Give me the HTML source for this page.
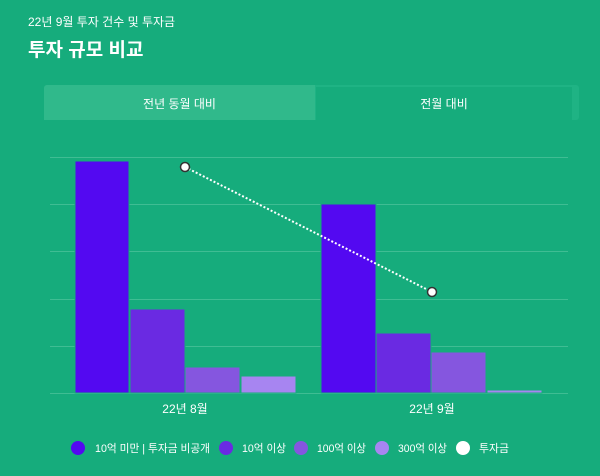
<!DOCTYPE html><html><head><meta charset="utf-8"><style>
body{margin:0;width:600px;height:476px;background:#16ac7c;font-family:"Liberation Sans","Noto Sans CJK KR",sans-serif;overflow:hidden;position:relative;color:#fff}
.t{position:absolute}
</style></head><body>
<div class="t" style="left:28px;top:13px;font-size:12px;">22년 9월 투자 건수 및 투자금</div>
<div class="t" style="left:28px;top:35px;font-size:19px;font-weight:bold;">투자 규모 비교</div>
<div class="t" style="left:44px;top:85px;width:535px;height:35px;background:#1fb384;border-radius:3px"></div>
<div class="t" style="left:44px;top:85px;width:271px;height:35px;background:#30b98b;border-radius:3px 0 0 0"></div>
<div class="t" style="left:316px;top:87px;width:256px;height:33px;background:#16ac7c"></div>
<div class="t" style="left:44px;top:95px;width:271px;text-align:center;font-size:12px">전년 동월 대비</div>
<div class="t" style="left:316px;top:95px;width:256px;text-align:center;font-size:12px">전월 대비</div>
<svg class="t" style="left:0;top:0" width="600" height="476">
<g stroke="#3fbd93" stroke-width="1">
<line x1="50" x2="568" y1="157.5" y2="157.5"/><line x1="50" x2="568" y1="204.5" y2="204.5"/><line x1="50" x2="568" y1="251.5" y2="251.5"/><line x1="50" x2="568" y1="299.5" y2="299.5"/><line x1="50" x2="568" y1="346.5" y2="346.5"/><line x1="50" x2="568" y1="393.5" y2="393.5"/></g>
<g stroke="#16ac7c" stroke-width="1">
<rect x="75" y="161" width="54" height="232" fill="#5309f1"/>
<rect x="130" y="309" width="55" height="84" fill="#6a2ae2"/>
<rect x="185" y="367" width="55" height="26" fill="#8556df"/>
<rect x="241" y="376" width="55" height="17" fill="#a785f1"/>
<rect x="321" y="204" width="55" height="189" fill="#5309f1"/>
<rect x="376" y="333" width="55" height="60" fill="#6a2ae2"/>
<rect x="431" y="352" width="55" height="41" fill="#8556df"/>
<rect x="487" y="390" width="55" height="3" fill="#a785f1"/>
</g>
<line x1="185" y1="167" x2="432" y2="292" stroke="#fff" stroke-width="2" stroke-dasharray="2,2"/>
<circle cx="185" cy="167" r="4.5" fill="#fff" stroke="#333" stroke-width="1.5"/>
<circle cx="432" cy="292" r="4.5" fill="#fff" stroke="#333" stroke-width="1.5"/>
<g font-size="12" fill="#fff" font-family="Liberation Sans,Noto Sans CJK KR,sans-serif">
<text x="185" y="413" text-anchor="middle">22년 8월</text>
<text x="432" y="413" text-anchor="middle">22년 9월</text>
<g font-size="11">
<circle cx="78" cy="448" r="7" fill="#5309f1"/><text x="95" y="452" textLength="115" lengthAdjust="spacingAndGlyphs">10억 미만 | 투자금 비공개</text>
<circle cx="226" cy="448" r="7" fill="#6a2ae2"/><text x="242" y="452" textLength="44" lengthAdjust="spacingAndGlyphs">10억 이상</text>
<circle cx="301" cy="448" r="7" fill="#8556df"/><text x="317" y="452" textLength="49" lengthAdjust="spacingAndGlyphs">100억 이상</text>
<circle cx="382" cy="448" r="7" fill="#a785f1"/><text x="398" y="452" textLength="49" lengthAdjust="spacingAndGlyphs">300억 이상</text>
<circle cx="463" cy="448" r="7" fill="#fff"/><text x="479" y="452" textLength="30" lengthAdjust="spacingAndGlyphs">투자금</text>
</g></g></svg>
</body></html>
